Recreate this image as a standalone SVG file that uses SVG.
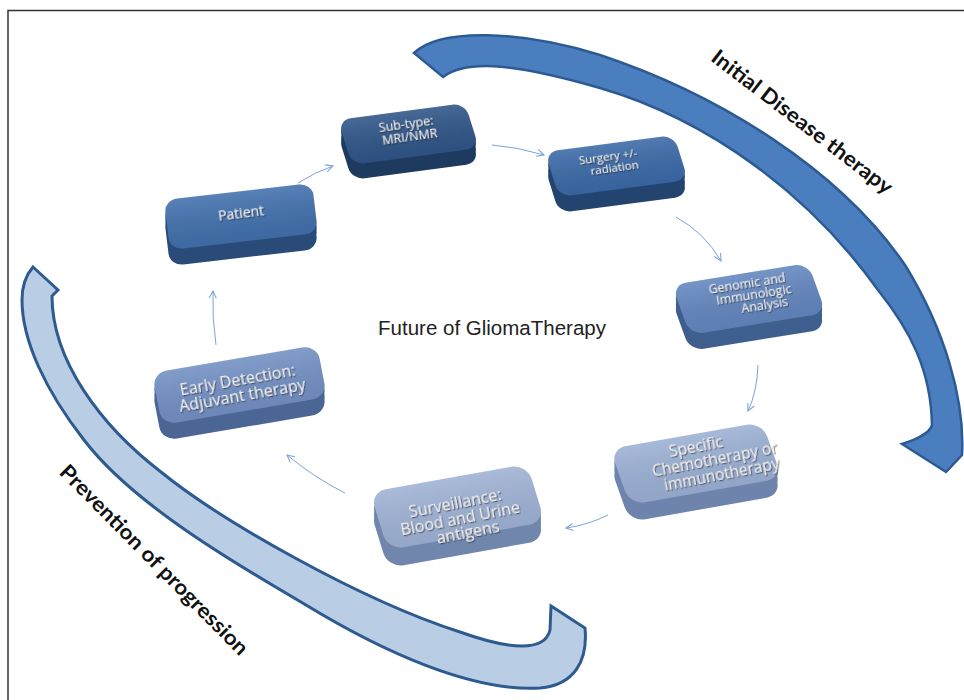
<svg xmlns="http://www.w3.org/2000/svg" width="964" height="700" viewBox="0 0 964 700">
<defs>
<style>
.frame{fill:none;stroke:#333;stroke-width:1.5}
.edge{fill:none;stroke:#7ea2d6;stroke-width:1;marker-end:url(#ah)}
.nt{font-family:"Open Sans","Noto Sans","DejaVu Sans",sans-serif;fill:#f2f2f2;text-anchor:middle;filter:url(#ts)}
.big{font-family:Lato,"Open Sans","DejaVu Sans",sans-serif;font-weight:bold;font-size:21px;fill:#111;text-anchor:middle}
.title{font-family:"Liberation Sans",Arial,sans-serif;font-size:20.5px;fill:#222;text-anchor:middle}
</style>
<marker id="ah" viewBox="0 0 10 10" refX="9" refY="5" markerWidth="9" markerHeight="9" markerUnits="userSpaceOnUse" orient="auto">
<path d="M1,1 L9,5 L1,9" fill="none" stroke="#7ea2d6" stroke-width="1.2"/>
</marker>
<filter id="ts" x="-10%" y="-30%" width="120%" height="160%">
<feDropShadow dx="0.8" dy="1.2" stdDeviation="0.6" flood-color="#222" flood-opacity="0.75"/>
</filter>
<linearGradient id="gtop" x1="0" y1="0" x2="0" y2="1">
<stop offset="0" stop-color="#fff" stop-opacity="0.12"/>
<stop offset="1" stop-color="#000" stop-opacity="0.06"/>
</linearGradient>
</defs>

<rect width="964" height="700" fill="#fff"/>
<path class="frame" d="M8,700 L8,10.5 L964,10.5"/>

<g id="arc-initial">
<path d="M414,53 C440,28 520,30 600,55 C720,95 840,170 905,265 C945,330 965,400 962,455 L946,472 L902,444 C915,440 930,433 932,425 C931,370 910,330 878,290 C810,195 710,120 600,88 C520,65 468,58 443,77 Z" fill="#4a7ebf" stroke="#2c5a93" stroke-width="2.5"/>
<text class="big" transform="translate(802,122) rotate(37.5)" y="7" textLength="222" lengthAdjust="spacingAndGlyphs">Initial Disease therapy</text>
</g>

<g id="arc-prevention">
<path d="M33,267 L58,290 L52,296 C52,360 100,425 161,472 C220,520 360,600 460,632 C510,650 545,652 550,630 L551,606 L585,628 C588,660 575,685 540,688 C470,692 380,650 306,605 C220,555 130,500 84,440 C45,390 22,340 22,300 C22,285 26,275 33,267 Z" fill="#b9cde5" stroke="#2d5a8f" stroke-width="3"/>
<text class="big" transform="translate(154,560) rotate(45.3)" y="7" textLength="258" lengthAdjust="spacingAndGlyphs">Prevention of progression</text>
</g>

<text id="title" class="title" x="492" y="335">Future of GliomaTherapy</text>

<g id="connectors">
<path class="edge" d="M298,183 Q315,172 333,166"/>
<path class="edge" d="M492,145 Q518,147 544,155"/>
<path class="edge" d="M676,217 Q705,233 721,261"/>
<path class="edge" d="M758,365 Q757,392 748,411"/>
<path class="edge" d="M608,515 Q588,525 566,528"/>
<path class="edge" d="M345,493 Q315,478 287,455"/>
<path class="edge" d="M216,345 Q212,318 213,291"/>
</g>

<g id="node-patient">
<g fill="#2a4a77">
<rect width="100" height="100" rx="9" ry="24" transform="translate(0,16) matrix(1.48,-0.17,0.06,0.5,164,200)"/>
<rect width="100" height="100" rx="9" ry="24" transform="translate(0,10) matrix(1.48,-0.17,0.06,0.5,164,200)"/>
<rect width="100" height="100" rx="9" ry="24" transform="translate(0,5) matrix(1.48,-0.17,0.06,0.5,164,200)"/>
</g>
<rect width="100" height="100" rx="9" ry="24" fill="#4170ad" transform="matrix(1.48,-0.17,0.06,0.5,164,200)"/>
<rect width="100" height="100" rx="9" ry="24" fill="url(#gtop)" transform="matrix(1.48,-0.17,0.06,0.5,164,200)"/>
<text class="nt" font-size="14" transform="translate(241,213) rotate(-7)" y="5">Patient</text>
</g>

<g id="node-subtype">
<g fill="#1f3a5f">
<rect width="100" height="100" rx="10" ry="26" transform="translate(0,15) matrix(1.27,-0.17,0.14,0.45,338,120)"/>
<rect width="100" height="100" rx="10" ry="26" transform="translate(0,10) matrix(1.27,-0.17,0.14,0.45,338,120)"/>
<rect width="100" height="100" rx="10" ry="26" transform="translate(0,4) matrix(1.27,-0.17,0.14,0.45,338,120)"/>
</g>
<rect width="100" height="100" rx="10" ry="26" fill="#2f5588" transform="matrix(1.27,-0.17,0.14,0.45,338,120)"/>
<rect width="100" height="100" rx="10" ry="26" fill="url(#gtop)" transform="matrix(1.27,-0.17,0.14,0.45,338,120)"/>
<g font-size="12.5" transform="translate(409,131) rotate(-8)">
<text class="nt" x="-2" y="-3">Sub-type:</text>
<text class="nt" x="0" y="10">MRI/NMR</text>
</g>
</g>

<g id="node-surgery">
<g fill="#244470">
<rect width="100" height="100" rx="10" ry="26" transform="translate(0,16) matrix(1.29,-0.17,0.14,0.45,545,152)"/>
<rect width="100" height="100" rx="10" ry="26" transform="translate(0,11) matrix(1.29,-0.17,0.14,0.45,545,152)"/>
<rect width="100" height="100" rx="10" ry="26" transform="translate(0,5) matrix(1.29,-0.17,0.14,0.45,545,152)"/>
</g>
<rect width="100" height="100" rx="10" ry="26" fill="#3b69a7" transform="matrix(1.29,-0.17,0.14,0.45,545,152)"/>
<rect width="100" height="100" rx="10" ry="26" fill="url(#gtop)" transform="matrix(1.29,-0.17,0.14,0.45,545,152)"/>
<g font-size="11.5" transform="translate(612,164) rotate(-8)">
<text class="nt" x="-3" y="-4">Surgery  +/-</text>
<text class="nt" x="2" y="8">radiation</text>
</g>
</g>

<g id="node-genomic">
<g fill="#3f5f8f">
<rect width="100" height="100" rx="10" ry="26" transform="translate(0,16) matrix(1.36,-0.22,0.18,0.5,672,285)"/>
<rect width="100" height="100" rx="10" ry="26" transform="translate(0,11) matrix(1.36,-0.22,0.18,0.5,672,285)"/>
<rect width="100" height="100" rx="10" ry="26" transform="translate(0,5) matrix(1.36,-0.22,0.18,0.5,672,285)"/>
</g>
<rect width="100" height="100" rx="10" ry="26" fill="#6386bf" transform="matrix(1.36,-0.22,0.18,0.5,672,285)"/>
<rect width="100" height="100" rx="10" ry="26" fill="url(#gtop)" transform="matrix(1.36,-0.22,0.18,0.5,672,285)"/>
<g font-size="12.5" transform="translate(753,296) rotate(-9)">
<text class="nt" x="-4" y="-9">Genomic  and</text>
<text class="nt" x="1" y="3">Immunologic</text>
<text class="nt" x="10" y="15">Analysis</text>
</g>
</g>

<g id="node-specific">
<g fill="#6e84ac">
<rect width="100" height="100" rx="10" ry="26" transform="translate(0,17) matrix(1.52,-0.27,0.2,0.56,610,449)"/>
<rect width="100" height="100" rx="10" ry="26" transform="translate(0,11) matrix(1.52,-0.27,0.2,0.56,610,449)"/>
<rect width="100" height="100" rx="10" ry="26" transform="translate(0,5) matrix(1.52,-0.27,0.2,0.56,610,449)"/>
</g>
<rect width="100" height="100" rx="10" ry="26" fill="#9cb0d4" transform="matrix(1.52,-0.27,0.2,0.56,610,449)"/>
<rect width="100" height="100" rx="10" ry="26" fill="url(#gtop)" transform="matrix(1.52,-0.27,0.2,0.56,610,449)"/>
<g font-size="15.5" transform="translate(713,461) rotate(-11)">
<text class="nt" x="-14" y="-12">Specific</text>
<text class="nt" x="2" y="4">Chemotherapy or</text>
<text class="nt" x="6" y="20">immunotherapy</text>
</g>
</g>

<g id="node-surveillance">
<g fill="#7086ad">
<rect width="100" height="100" rx="10" ry="26" transform="translate(0,18) matrix(1.57,-0.28,0.18,0.58,370,492)"/>
<rect width="100" height="100" rx="10" ry="26" transform="translate(0,12) matrix(1.57,-0.28,0.18,0.58,370,492)"/>
<rect width="100" height="100" rx="10" ry="26" transform="translate(0,6) matrix(1.57,-0.28,0.18,0.58,370,492)"/>
</g>
<rect width="100" height="100" rx="10" ry="26" fill="#9fb2d5" transform="matrix(1.57,-0.28,0.18,0.58,370,492)"/>
<rect width="100" height="100" rx="10" ry="26" fill="url(#gtop)" transform="matrix(1.57,-0.28,0.18,0.58,370,492)"/>
<g font-size="16" transform="translate(460,518) rotate(-11)">
<text class="nt" x="-2" y="-10">Surveillance:</text>
<text class="nt" x="0" y="6">Blood and Urine</text>
<text class="nt" x="5" y="21">antigens</text>
</g>
</g>

<g id="node-early">
<g fill="#4b6694">
<rect width="100" height="100" rx="9" ry="26" transform="translate(0,16) matrix(1.65,-0.28,0.1,0.52,152,373)"/>
<rect width="100" height="100" rx="9" ry="26" transform="translate(0,11) matrix(1.65,-0.28,0.1,0.52,152,373)"/>
<rect width="100" height="100" rx="9" ry="26" transform="translate(0,5) matrix(1.65,-0.28,0.1,0.52,152,373)"/>
</g>
<rect width="100" height="100" rx="9" ry="26" fill="#7390c4" transform="matrix(1.65,-0.28,0.1,0.52,152,373)"/>
<rect width="100" height="100" rx="9" ry="26" fill="url(#gtop)" transform="matrix(1.65,-0.28,0.1,0.52,152,373)"/>
<g font-size="16" transform="translate(241,388) rotate(-10)">
<text class="nt" x="-2" y="-3">Early Detection:</text>
<text class="nt" x="0" y="13">Adjuvant therapy</text>
</g>
</g>
</svg>
